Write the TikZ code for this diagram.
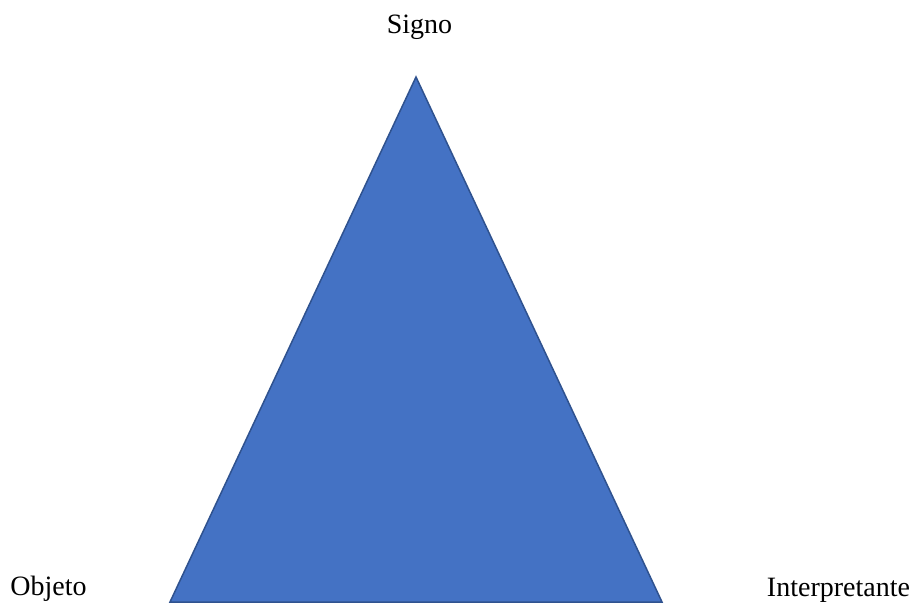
\documentclass[tikz,border=0pt]{standalone}
\usepackage{fontspec}
\setmainfont{Liberation Serif}
\usepackage{xcolor}
\usepackage{tikz}
\definecolor{triblue}{RGB}{68,114,196}
\definecolor{triedge}{RGB}{47,82,143}

\begin{document}
\begin{tikzpicture}[x=1pt,y=-1pt,font=\fontsize{28}{34}\selectfont,
 lbl/.style={inner sep=0pt,anchor=base}]
 \useasboundingbox (0,0) rectangle (918,603);
 \coordinate (top) at (416,77);
 \coordinate (left) at (170,602);
 \coordinate (right) at (662,602);
 \fill[triblue,draw=triedge,line width=1.5pt,line join=miter] (top)--(left)--(right)--cycle;
 \node[lbl](signo) at (419.5,33){Signo};
 \node[lbl](objeto) at (48.5,595){Objeto};
 \node[lbl](interp) at (838.5,596){Interpretante};
\end{tikzpicture}
\end{document}
